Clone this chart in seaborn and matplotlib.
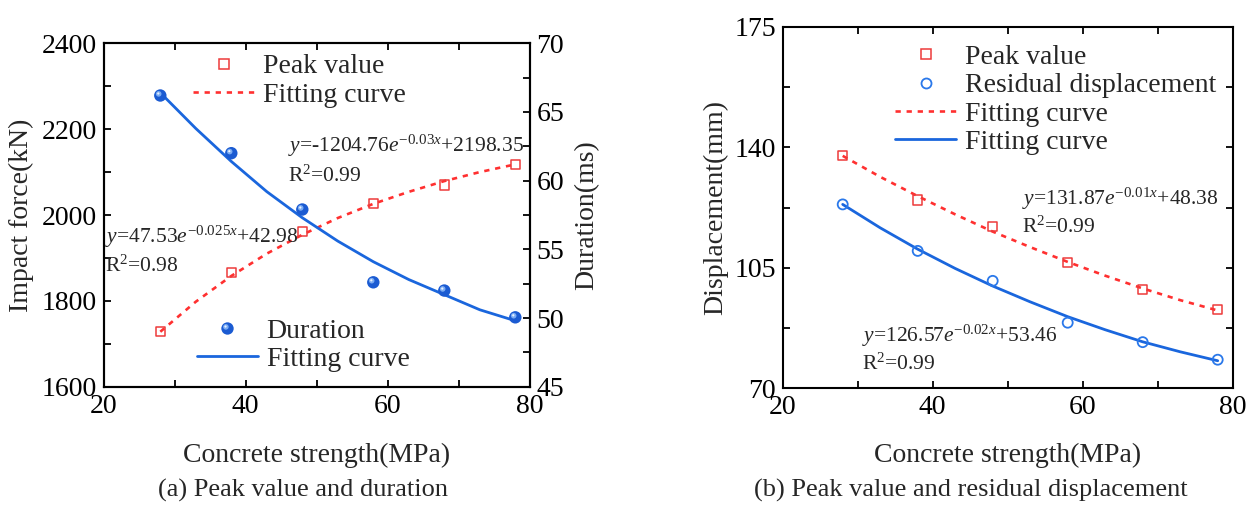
import numpy as np
import pandas as pd
import matplotlib
matplotlib.use("Agg")
import matplotlib.pyplot as plt
import seaborn as sns
from matplotlib.markers import MarkerStyle
from matplotlib.transforms import Affine2D
from matplotlib.ticker import MultipleLocator
from matplotlib.legend_handler import HandlerTuple
from matplotlib.lines import Line2D

# ---------------- data ----------------
strength = [28, 38, 48, 58, 68, 78]
peak_force = [1728, 1866, 1961, 2027, 2070, 2118]
duration = [66.2, 62.0, 57.9, 52.6, 52.0, 50.05]

fit_x = [28, 33, 38, 43, 48, 53, 58, 63, 68, 73, 78]
fit_force = [1728, 1798, 1858, 1910, 1954, 1993, 2026, 2054, 2079, 2100, 2118]
fit_duration = [66.4, 63.8, 61.4, 59.2, 57.3, 55.6, 54.1, 52.8, 51.7, 50.6, 49.8]

peak_disp = [137.7, 124.7, 116.9, 106.5, 98.7, 92.8]
resid_disp = [123.4, 109.9, 101.2, 89.05, 83.4, 78.3]
fit_peak_disp = [137.5, 131.4, 125.8, 120.5, 115.5, 111.0, 106.7, 102.7, 99.0, 95.6, 92.6]
fit_resid_disp = [123.4, 116.6, 110.4, 104.8, 99.7, 95.1, 90.8, 87.0, 83.5, 80.6, 78.0]

force_ticks = [1600, 1800, 2000, 2200, 2400]
duration_ticks = [45, 50, 55, 60, 65, 70]
disp_ticks = [70, 105, 140, 175]
x_ticks = [20, 40, 60, 80]

labels_a = ["Peak value", "Fitting curve", "Duration", "Fitting curve"]
labels_b = ["Peak value", "Residual displacement", "Fitting curve", "Fitting curve"]
eq_force = r"$y$=-1204.76$e^{-0.03x}$+2198.35"
eq_duration = r"$y$=47.53$e^{-0.025x}$+42.98"
eq_peak_disp = r"$y$=131.87$e^{-0.01x}$+48.38"
eq_resid_disp = r"$y$=126.57$e^{-0.02x}$+53.46"
r2_force, r2_duration, r2_peak, r2_resid = "R$^2$=0.99", "R$^2$=0.98", "R$^2$=0.99", "R$^2$=0.99"

# ---------------- style ----------------
sns.set_style("ticks")
plt.rcParams["font.family"] = ["Liberation Serif", "DejaVu Serif"]
plt.rcParams["mathtext.fontset"] = "custom"
plt.rcParams["mathtext.rm"] = "Liberation Serif"
plt.rcParams["mathtext.it"] = "Liberation Serif:italic"
plt.rcParams["mathtext.bf"] = "Liberation Serif:bold"
plt.rcParams["axes.linewidth"] = 1.5

RED = "#ee3b3b"
RED_LINE = "#ff3030"
BLUE = "#1a66dd"
BLUE_PT = "#2a78ea"
SPH = "#1b5bd2"
SPH_HI = "#86b6f7"

FS = 20
W, H = 1250, 505

fig = plt.figure(figsize=(12.5, 5.05), dpi=100)
ax1 = fig.add_axes([103.5 / W, 1 - 386.7 / H, 426 / W, 343.4 / H])
ax2 = ax1.twinx()
ax3 = fig.add_axes([782.7 / W, 1 - 388.3 / H, 450 / W, 361.6 / H])

dots = (0, (2.0, 2.2))

# ---------- panel (a) ----------
sns.lineplot(x=fit_x, y=fit_force, ax=ax1, color=RED_LINE, lw=1.9,
             linestyle=dots, legend=False, zorder=2)
sns.scatterplot(x=strength, y=peak_force, ax=ax1, marker="s", s=44,
                facecolor="none", edgecolor=RED, linewidth=1.1, zorder=3)

sns.lineplot(x=fit_x, y=fit_duration, ax=ax2, color=BLUE, lw=2.0,
             legend=False, zorder=2)
hl_marker = MarkerStyle("o", transform=Affine2D().scale(0.45).translate(-0.13, 0.13))
hl2_marker = MarkerStyle("o", transform=Affine2D().scale(0.18).translate(-0.16, 0.16))
sns.scatterplot(x=strength, y=duration, ax=ax2, marker="o", s=80,
                color=SPH, edgecolor="none", linewidth=0, zorder=3)
sns.scatterplot(x=strength, y=duration, ax=ax2, marker=hl_marker, s=80,
                color=SPH_HI, edgecolor="none", linewidth=0, alpha=0.9, zorder=4)
sns.scatterplot(x=strength, y=duration, ax=ax2, marker=hl2_marker, s=80,
                color="white", edgecolor="none", linewidth=0, alpha=0.85, zorder=5)

ax1.set_xlim(20, 80)
ax1.set_ylim(1600, 2400)
ax2.set_ylim(45, 70)
ax1.set_xticks(x_ticks)
ax1.set_yticks(force_ticks)
ax2.set_yticks(duration_ticks)
ax1.xaxis.set_minor_locator(MultipleLocator(10))
ax1.yaxis.set_minor_locator(MultipleLocator(100))
ax2.yaxis.set_minor_locator(MultipleLocator(2.5))

# ---------- panel (b) ----------
sns.lineplot(x=fit_x, y=fit_peak_disp, ax=ax3, color=RED_LINE, lw=1.9,
             linestyle=dots, legend=False, zorder=2)
sns.lineplot(x=fit_x, y=fit_resid_disp, ax=ax3, color=BLUE, lw=2.0,
             legend=False, zorder=2)
sns.scatterplot(x=strength, y=peak_disp, ax=ax3, marker="s", s=44,
                facecolor="none", edgecolor=RED, linewidth=1.1, zorder=3)
sns.scatterplot(x=strength, y=resid_disp, ax=ax3, marker="o", s=52,
                facecolor="none", edgecolor=BLUE_PT, linewidth=1.3, zorder=3)
ax3.set_xlim(20, 80)
ax3.set_ylim(70, 175)
ax3.set_xticks(x_ticks)
ax3.set_yticks(disp_ticks)
ax3.xaxis.set_minor_locator(MultipleLocator(10))
ax3.yaxis.set_minor_locator(MultipleLocator(17.5))

# ---------- ticks / spines ----------
for ax in (ax1, ax2, ax3):
    for sp in ax.spines.values():
        sp.set_linewidth(1.5)
        sp.set_color("black")
        sp.set_visible(True)
ax1.tick_params(axis="both", which="both", direction="in", length=5, width=1.3,
                labelsize=FS, pad=5, top=True, right=False, colors="black")
ax2.tick_params(axis="y", which="both", direction="in", length=5, width=1.3,
                labelsize=FS, pad=5, right=True, left=False, colors="black")
ax3.tick_params(axis="both", which="both", direction="in", length=5, width=1.3,
                labelsize=FS, pad=5, top=True, right=True, colors="black")

# ---------- labels ----------
ax1.set_xlabel("Concrete strength(MPa)", fontsize=FS)
ax1.set_ylabel("Impact force(kN)", fontsize=FS)
ax2.set_ylabel("Duration(ms)", fontsize=FS)
ax3.set_xlabel("Concrete strength(MPa)", fontsize=FS)
ax3.set_ylabel("Displacement(mm)", fontsize=FS)
ax1.xaxis.set_label_coords(0.5, -0.199)
ax3.xaxis.set_label_coords(0.5, -0.1845)
ax1.xaxis.label.set_va("center")
ax3.xaxis.label.set_va("center")
ax1.yaxis.set_label_coords(-0.1937, 0.5)
ax2.yaxis.set_label_coords(1.135, 0.5)
ax3.yaxis.set_label_coords(-0.148, 0.5)
for lab in (ax1.yaxis.label, ax2.yaxis.label, ax3.yaxis.label):
    lab.set_va("center")
    lab.set_ha("center")

fig.text(302.5 / W, 1 - 490 / H, "(a) Peak value and duration", fontsize=19,
         ha="center", va="center")
fig.text(971 / W, 1 - 490 / H, "(b) Peak value and residual displacement",
         fontsize=19, ha="center", va="center")

# ---------- annotations ----------
AFS = 15.5
ax2.text(0.4338, 0.6843, eq_force, transform=ax1.transAxes, fontsize=AFS, va="baseline")
ax2.text(0.4338, 0.5970, r2_force, transform=ax1.transAxes, fontsize=AFS, va="baseline")
ax2.text(0.0035, 0.4193, eq_duration, transform=ax1.transAxes, fontsize=AFS, va="baseline")
ax2.text(0.0035, 0.3349, r2_duration, transform=ax1.transAxes, fontsize=AFS, va="baseline")
ax3.text(0.5311, 0.5069, eq_peak_disp, transform=ax3.transAxes, fontsize=AFS, va="baseline")
ax3.text(0.5311, 0.4287, r2_peak, transform=ax3.transAxes, fontsize=AFS, va="baseline")
ax3.text(0.1756, 0.1289, eq_resid_disp, transform=ax3.transAxes, fontsize=AFS, va="baseline")
ax3.text(0.1756, 0.0506, r2_resid, transform=ax3.transAxes, fontsize=AFS, va="baseline")

# ---------- legends ----------
h_sq = Line2D([], [], ls="none", marker="s", ms=6.6, mfc="none", mec=RED, mew=1.1)
h_dot = Line2D([], [], color=RED_LINE, lw=1.9, ls=dots)
h_solid = Line2D([], [], color=BLUE, lw=2.0)
h_sph = (Line2D([], [], ls="none", marker="o", ms=8.9, mfc=SPH, mec="none"),
         Line2D([], [], ls="none", marker=hl_marker, ms=8.9, mfc=SPH_HI, mec="none", alpha=0.9),
         Line2D([], [], ls="none", marker=hl2_marker, ms=8.9, mfc="white", mec="none", alpha=0.85))
h_circ = Line2D([], [], ls="none", marker="o", ms=7.2, mfc="none", mec=BLUE_PT, mew=1.3)

leg_kw = dict(frameon=False, fontsize=FS, handlelength=2.2, handletextpad=0.32,
              labelspacing=0.1, borderpad=0, borderaxespad=0, loc="center left",
              bbox_transform=fig.transFigure)
leg1 = ax2.legend([h_sq, h_dot], labels_a[:2], bbox_to_anchor=(193.3 / W, 1 - 80.8 / H), **leg_kw)
ax2.add_artist(leg1)
leg2 = ax2.legend([h_sph, h_solid], labels_a[2:], bbox_to_anchor=(196.7 / W, 1 - 345 / H),
                  handler_map={tuple: HandlerTuple(ndivide=1, pad=0)}, **leg_kw)
leg3 = ax3.legend([h_sq, h_circ, h_dot, h_solid], labels_b,
                  bbox_to_anchor=(895 / W, 1 - 99.7 / H), **leg_kw)

fig.savefig("out.png", dpi=100)
